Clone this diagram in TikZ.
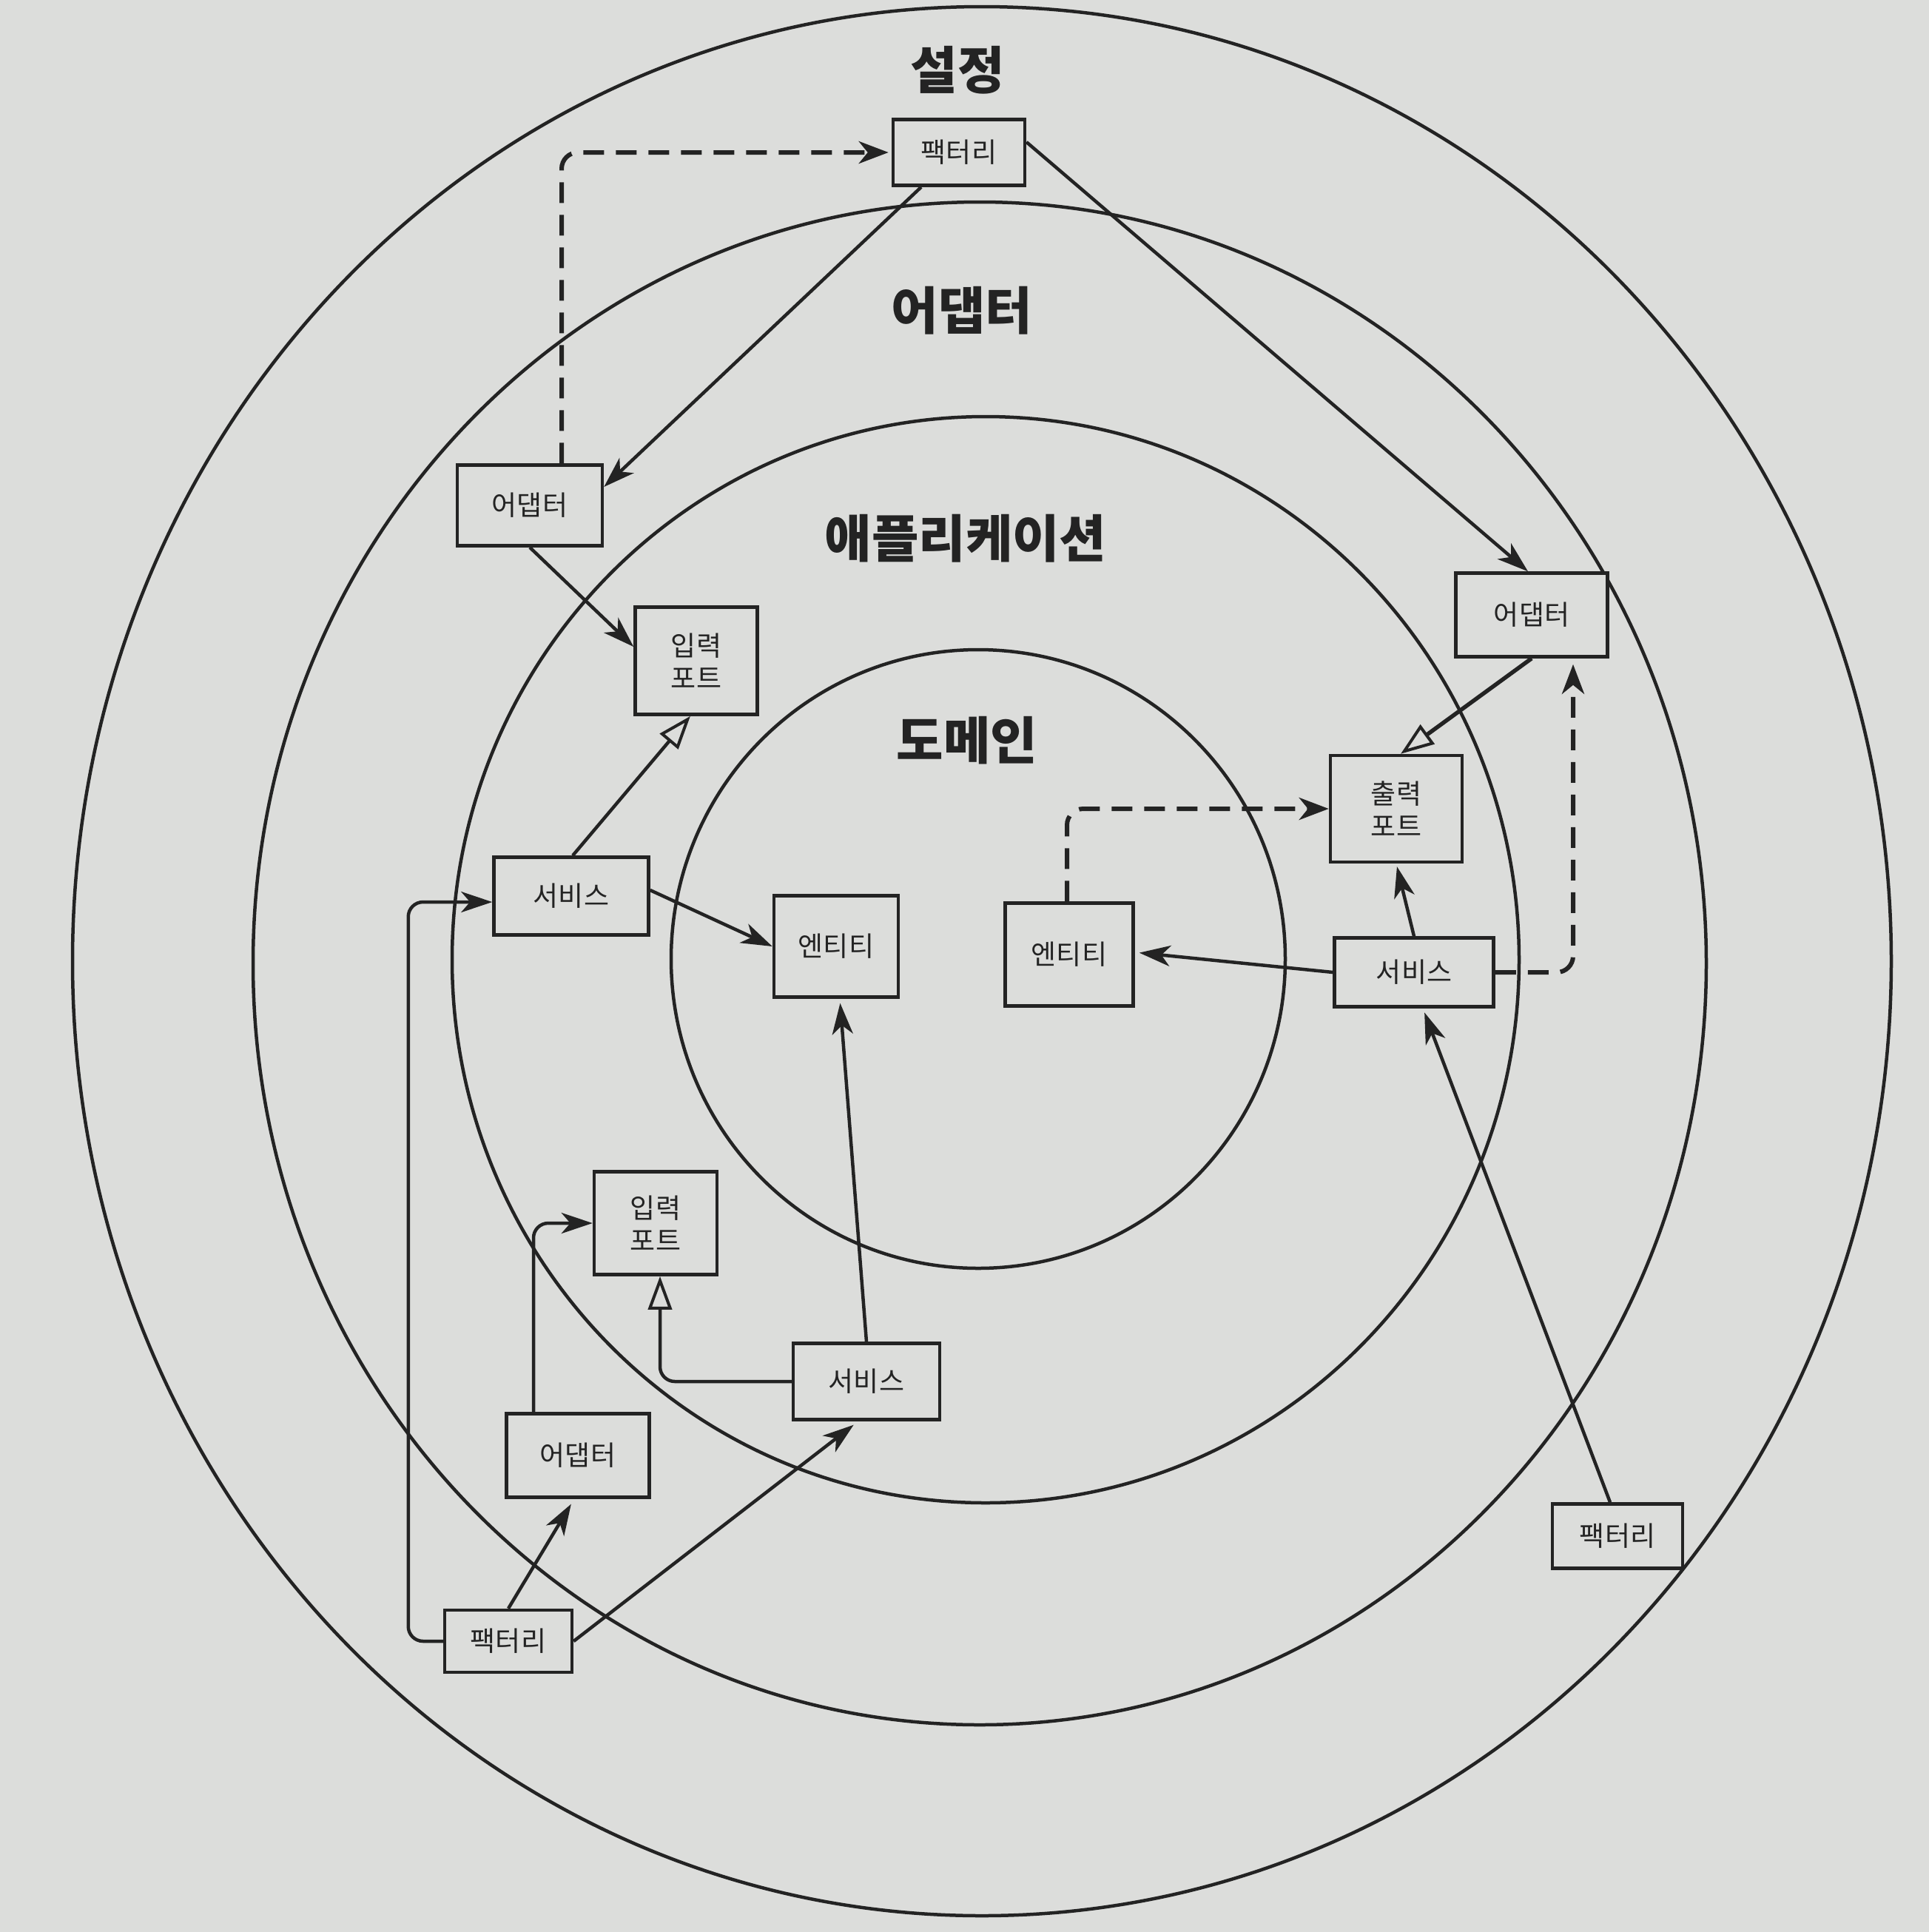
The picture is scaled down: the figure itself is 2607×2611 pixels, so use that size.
\documentclass[tikz,border=0pt]{standalone}
\usepackage{fontspec}
\setmainfont{Noto Sans CJK KR}
\usetikzlibrary{arrows.meta,calc}
\definecolor{bgcol}{HTML}{DCDDDB}
\definecolor{ink}{HTML}{232323}
\tikzset{
  ring/.style={draw=ink, line width=4.5pt},
  layer/.style={font=\bfseries\fontsize{69}{75}\selectfont, text=ink},
  box/.style={draw=ink, fill=bgcol, line width=4.5pt, inner sep=0pt, align=center,
    text=ink, font=\fontsize{37}{44}\selectfont},
  conn/.style={draw=ink, line width=4.5pt, -{Stealth[length=42pt,width=28pt,inset=12pt]}},
  dconn/.style={draw=ink, line width=6pt, dash pattern=on 28pt off 16pt,
    -{Stealth[length=40pt,width=30pt,inset=12pt]}},
  real/.style={draw=ink, line width=4.5pt, -{Triangle[open,length=45pt,width=32pt,line width=4pt]}},
}
\begin{document}
\begin{tikzpicture}[x=1pt,y=-1pt]
\useasboundingbox (0,0) rectangle (2607,2611);
\fill[bgcol] (0,0) rectangle (2607,2611);

% rings
\draw[ring] (1327,1299) ellipse [x radius=1229pt, y radius=1290pt];
\draw[ring] (1324,1302) ellipse [x radius=982pt, y radius=1029pt];
\draw[ring] (1332,1297) ellipse [x radius=721pt, y radius=734pt];
\draw[ring] (1322,1296) ellipse [x radius=415pt, y radius=418pt];

% layer labels
\node[layer] (lset) at (1294,95) {설정};
\node[layer] (lada) at (1300,420) {어댑터};
\node[layer] (lapp) at (1305,728) {애플리케이션};
\node[layer] (ldom) at (1307,1001) {도메인};

% boxes
\node[box, minimum width=178pt, minimum height=89pt]  (fTop) at (1296,206)  {팩터리};
\node[box, minimum width=196pt, minimum height=109pt] (aL)   at (716,683)   {어댑터};
\node[box, minimum width=165pt, minimum height=145pt] (ipU)  at (941,893)   {입력\\포트};
\node[box, minimum width=205pt, minimum height=113pt] (aR)   at (2070,831)  {어댑터};
\node[box, minimum width=178pt, minimum height=144pt] (op)   at (1887,1093) {출력\\포트};
\node[box, minimum width=209pt, minimum height=105pt] (sUL)  at (772,1211)  {서비스};
\node[box, minimum width=168pt, minimum height=137pt] (eL)   at (1130,1279) {엔티티};
\node[box, minimum width=173pt, minimum height=139pt] (eR)   at (1445,1290) {엔티티};
\node[box, minimum width=215pt, minimum height=93pt]  (sR)   at (1911,1314) {서비스};
\node[box, minimum width=166pt, minimum height=139pt] (ipL)  at (886,1653)  {입력\\포트};
\node[box, minimum width=198pt, minimum height=103pt] (sL)   at (1171,1867) {서비스};
\node[box, minimum width=193pt, minimum height=113pt] (aLow) at (781,1967)  {어댑터};
\node[box, minimum width=172pt, minimum height=84pt]  (fL)   at (687,2218)  {팩터리};
\node[box, minimum width=176pt, minimum height=87pt]  (fR)   at (2186,2076) {팩터리};

% connectors
\draw[dconn, rounded corners=22pt] ([xshift=43pt]aL.north) |- ([xshift=-4pt]fTop.west);
\draw[conn] ([xshift=-51pt]fTop.south) -- ([yshift=25pt]aL.east);
\draw[conn] ([yshift=14pt]fTop.east) -- ([xshift=-5pt]aR.north);
\draw[conn] (aL.south) -- ([yshift=19pt]ipU.west);
\draw[real] ([xshift=2pt]sUL.north) -- ([xshift=-8pt]ipU.south);
\draw[conn] ([yshift=8pt]sUL.east) -- (eL.west);
\draw[conn, rounded corners=20pt] (fL.west) -- ++(-47pt,0pt) |- ([yshift=-8pt]sUL.west);
\draw[conn, shorten >=8pt] (fL.north) -- ([xshift=-5pt]aLow.south);
\draw[conn, shorten >=8pt] (fL.east) -- ([xshift=-11pt]sL.south);
\draw[conn, rounded corners=20pt] ([xshift=-60pt]aLow.north) |- (ipL.west);
\draw[real, rounded corners=20pt] (sL.west) -| ([xshift=6pt]ipL.south);
\draw[conn, shorten >=6pt] (sL.north) -- ([xshift=5pt]eL.south);
\draw[dconn, rounded corners=22pt] ([xshift=-3pt]eR.north) |- (op.west);
\draw[conn, shorten >=6pt] (sR.west) -- ([yshift=3pt]eR.east);
\draw[conn, shorten >=4pt] (sR.north) -- (op.south);
\draw[real, line width=5.5pt] (aR.south) -- ([xshift=6pt]op.north);
\draw[dconn, rounded corners=22pt, shorten >=8pt] (sR.east) -| ([xshift=56pt]aR.south);
\draw[conn, shorten >=6pt] ([xshift=-10pt]fR.north) -- ([xshift=12pt]sR.south);
\end{tikzpicture}
\end{document}
